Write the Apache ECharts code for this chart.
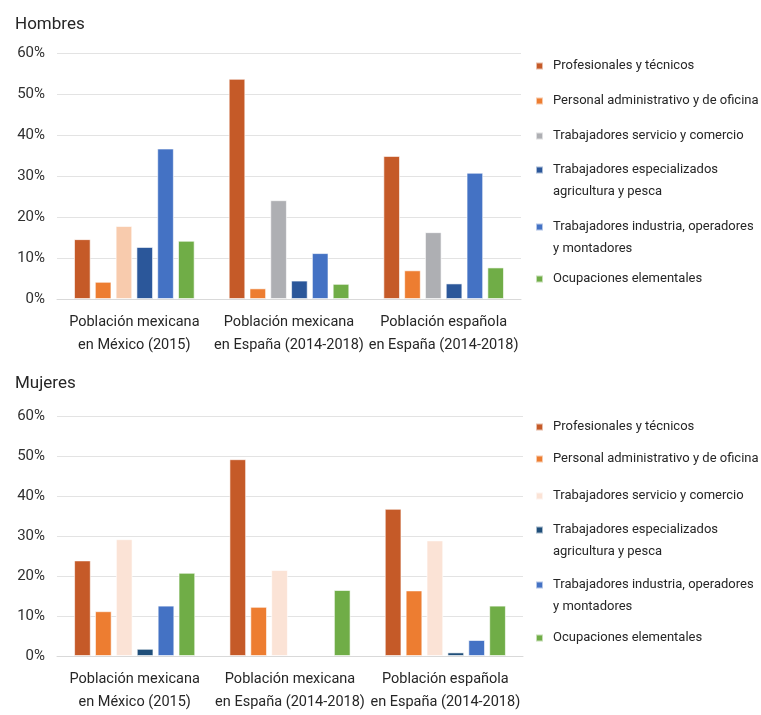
<!DOCTYPE html>
<html>
<head>
<meta charset="utf-8">
<script src="https://cdn.jsdelivr.net/npm/echarts@6/dist/echarts.min.js"></script>
<style>
html,body{margin:0;padding:0;background:#fff;}
#chart{width:761px;height:715px;}
</style>
</head>
<body>
<div id="chart"></div>
<script>
// ---- Data ----
const categories = [
  'Población mexicana\nen México (2015)',
  'Población mexicana\nen España (2014-2018)',
  'Población española\nen España (2014-2018)'
];
const occupations = [
  'Profesionales y técnicos',
  'Personal administrativo y de oficina',
  'Trabajadores servicio y comercio',
  'Trabajadores especializados\nagricultura y pesca',
  'Trabajadores industria, operadores\ny montadores',
  'Ocupaciones elementales'
];
const yTicks = [0, 10, 20, 30, 40, 50, 60];

// Hombres (%)
const hombresProfesionales   = [14.6, 53.7, 34.9];
const hombresAdministrativo  = [4.2, 2.6, 7.0];
const hombresServicio        = [17.8, 24.1, 16.3];
const hombresAgricultura     = [12.7, 4.5, 3.8];
const hombresIndustria       = [36.7, 11.2, 30.8];
const hombresElementales     = [14.2, 3.7, 7.7];

// Mujeres (%)
const mujeresProfesionales   = [23.9, 49.2, 36.8];
const mujeresAdministrativo  = [11.2, 12.3, 16.4];
const mujeresServicio        = [29.2, 21.5, 28.9];
const mujeresAgricultura     = [1.8, 0, 0.9];
const mujeresIndustria       = [12.6, 0, 4.0];
const mujeresElementales     = [20.8, 16.5, 12.6];

// ---- Styles ----
const FONT = "'Liberation Sans Narrow', 'Roboto', 'DejaVu Sans Condensed', sans-serif";
const topColors = ['#C55A28', '#ED7D31', '#AEAFB3', '#2B579A', '#4472C4', '#70AD47'];
const bottomColors = ['#C55A28', '#ED7D31', '#FBE3D6', '#1F4E79', '#4472C4', '#70AD47'];
const topServicioFirstColor = '#F8CBAD';

const hombres = [hombresProfesionales, hombresAdministrativo, hombresServicio, hombresAgricultura, hombresIndustria, hombresElementales];
const mujeres = [mujeresProfesionales, mujeresAdministrativo, mujeresServicio, mujeresAgricultura, mujeresIndustria, mujeresElementales];

const grids = [
  {left: 57, top: 53, width: 464, height: 246},
  {left: 57, top: 416, width: 466, height: 240}
];

function xAxis(gi, margin) {
  return {
    type: 'category', gridIndex: gi, data: categories,
    axisTick: {show: false},
    axisLine: {lineStyle: {color: '#D9D9D9', width: 1}},
    axisLabel: {fontFamily: FONT, fontSize: 14.5, lineHeight: 23, color: '#262626', margin: margin, interval: 0}
  };
}
function yAxis(gi) {
  return {
    type: 'value', gridIndex: gi, min: yTicks[0], max: yTicks[yTicks.length - 1], interval: 10,
    axisLine: {show: false}, axisTick: {show: false},
    splitLine: {lineStyle: {color: '#E3E3E3', width: 1}},
    axisLabel: {fontFamily: FONT, fontSize: 15, color: '#303030', margin: 12, formatter: '{value}%'}
  };
}

const series = [];
hombres.forEach((vals, i) => {
  series.push({
    name: occupations[i], type: 'bar', xAxisIndex: 0, yAxisIndex: 0,
    barCategoryGap: '22%', barGap: '25%',
    itemStyle: {color: topColors[i], borderColor: 'rgba(255,255,255,0.6)', borderWidth: 1},
    data: vals.map((v, k) => (i === 2 && k === 0) ? {value: v, itemStyle: {color: topServicioFirstColor}} : v),
    emphasis: {disabled: true}
  });
});
mujeres.forEach((vals, i) => {
  series.push({
    name: occupations[i], type: 'bar', xAxisIndex: 1, yAxisIndex: 1,
    barCategoryGap: '22%', barGap: '25%',
    itemStyle: {color: bottomColors[i], borderColor: 'rgba(255,255,255,0.6)', borderWidth: 1},
    data: vals.map(v => v === 0 ? null : v),
    emphasis: {disabled: true}
  });
});

function makeLegend(i, top, color) {
  const twoLine = occupations[i].indexOf('\n') >= 0;
  return {
    orient: 'vertical', left: 535, top: top, padding: 0,
    icon: 'rect', itemWidth: 7, itemHeight: 7,
    selectedMode: false,
    formatter: twoLine ? '\n{name}' : '{name}',
    data: [{name: occupations[i], itemStyle: {color: color}}],
    textStyle: {fontFamily: FONT, fontSize: 13, lineHeight: 22, color: '#262626', padding: [0, 0, 0, 5]}
  };
}
const topLegendTops = [55, 90, 125, 137, 194, 268];
const bottomLegendTops = [416, 448, 485, 497, 552, 627];
const legends = [];
occupations.forEach((n, i) => legends.push(makeLegend(i, topLegendTops[i], topColors[i])));
occupations.forEach((n, i) => legends.push(makeLegend(i, bottomLegendTops[i], bottomColors[i])));

const chart = echarts.init(document.getElementById('chart'));
chart.setOption({
  animation: false,
  title: [
    {text: 'Hombres', left: 10, top: 11, textStyle: {fontFamily: FONT, fontSize: 17, fontWeight: 'normal', color: '#262626'}},
    {text: 'Mujeres', left: 10, top: 370, textStyle: {fontFamily: FONT, fontSize: 17, fontWeight: 'normal', color: '#262626'}}
  ],
  grid: grids,
  xAxis: [xAxis(0, 12), xAxis(1, 12)],
  yAxis: [yAxis(0), yAxis(1)],
  legend: legends,
  series: series
});
</script>
</body>
</html>
